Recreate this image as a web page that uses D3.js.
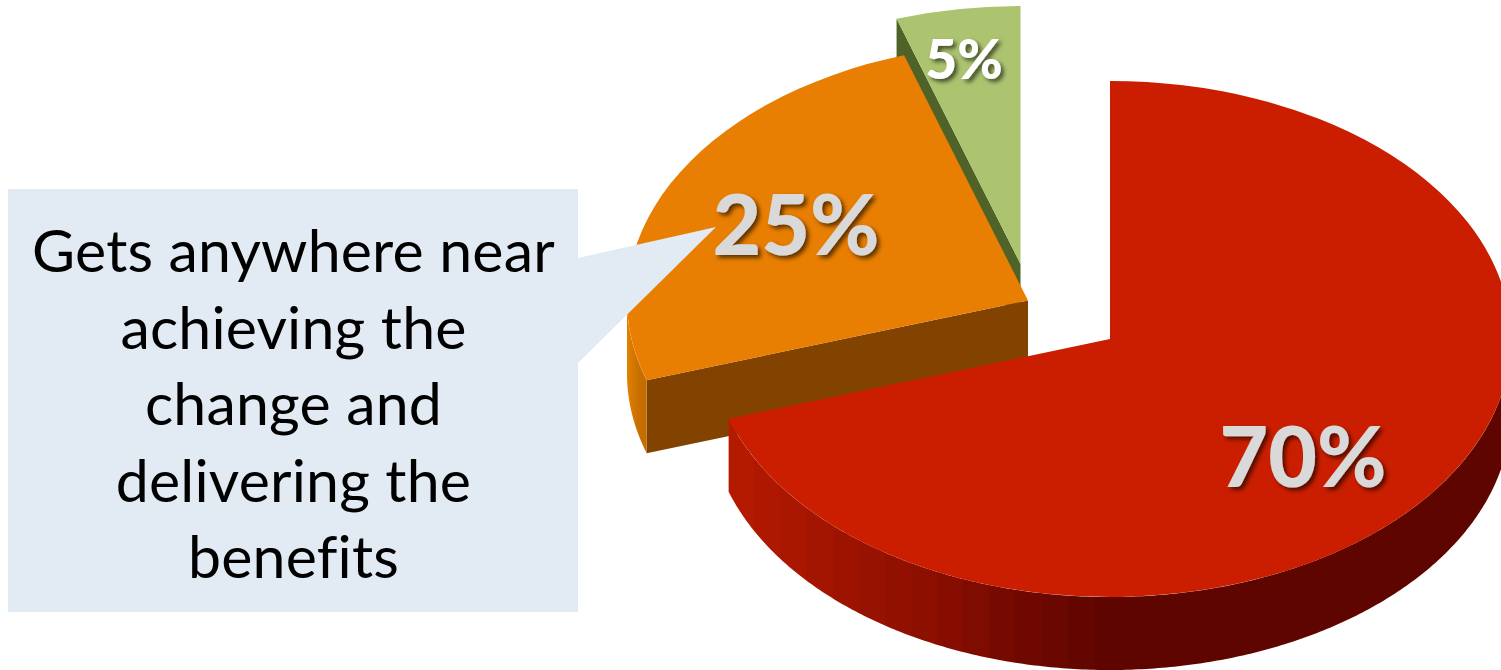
<!DOCTYPE html>
<html>
<head>
<meta charset="utf-8">
<script src="https://cdn.jsdelivr.net/npm/d3@7"></script>
<style>
  html, body { margin: 0; background: #fff; overflow: hidden; }
  svg { display: block; }
  text { font-family: Lato, "Open Sans", sans-serif; }
</style>
</head>
<body>
<svg id="chart" width="1501" height="670"></svg>
<script>
// Outcome shares, clockwise from twelve o'clock
const sliceNames = ["Fails", "Gets anywhere near", "Succeeds"];
const sliceShares = [70, 25, 5];
const calloutLines = ["Gets anywhere near", "achieving the", "change and", "delivering the", "benefits"];

// Colours per slice: top face, cut face, rim
const topColours = ["#cb1e00", "#e87e02", "#acc470"];
const cutColours = ["#ad1800", "#834300", "#4f6228"];
const rimColours = ["url(#redRim)", "url(#orangeRim)", "#8fa65a"];
const labelColours = ["#d9d9d9", "#d9d9d9", "#ffffff"];

// Exploded slice hubs and the tilted-disc proportions
const hubs = [[1110, 339], [1028, 300.5], [1020.5, 264]];
const radiusX = 401, radiusY = 258, depth = 73;
const labelPlacement = [
  { x: 1303, y: 487, size: 84 },
  { x: 796, y: 255, size: 84 },
  { x: 964, y: 79, size: 55 }
];

const svg = d3.select("#chart");
const defs = svg.append("defs");

function addGradient(id, x1, x2, stops) {
  const g = defs.append("linearGradient")
    .attr("id", id).attr("gradientUnits", "userSpaceOnUse")
    .attr("x1", x1).attr("x2", x2).attr("y1", 0).attr("y2", 0);
  stops.forEach(([offset, colour]) => g.append("stop").attr("offset", offset).attr("stop-color", colour));
}

// The red rim shades in flat vertical facets rather than a smooth ramp
const rimShade = d3.scaleLinear()
  .domain([0, 0.25, 0.55, 0.8, 1])
  .range(["#b41a00", "#a01400", "#880e00", "#6e0800", "#5e0500"]);
const facetCount = 15;
addGradient("redRim", 728, 1120, d3.range(facetCount).flatMap(k => [
  [k / facetCount, rimShade(k / (facetCount - 1))],
  [(k + 1) / facetCount, rimShade(k / (facetCount - 1))]
]));
addGradient("orangeRim", 628, 648, [[0, "#e08000"], [0.5, "#c87000"], [1, "#c06c00"]]);

defs.append("filter").attr("id", "labelShadow")
  .attr("x", "-20%").attr("y", "-20%").attr("width", "140%").attr("height", "140%")
  .append("feDropShadow")
  .attr("dx", 3).attr("dy", 3).attr("stdDeviation", 2)
  .attr("flood-color", "#000").attr("flood-opacity", 0.6);

const slices = d3.pie().sort(null)(sliceShares);
const topArc = d3.arc().innerRadius(0).outerRadius(radiusY);
const widen = radiusX / radiusY;

// Point on the tilted disc's edge for a pie angle
const edge = (angle, hub, drop = 0) => [
  hub[0] + radiusX * Math.sin(angle),
  hub[1] - radiusY * Math.cos(angle) + drop
];
const outline = d3.line();

function rimPath(slice, hub) {
  const from = Math.max(slice.startAngle, Math.PI / 2);
  const to = Math.min(slice.endAngle, Math.PI * 1.5);
  if (to <= from) return null;
  const angles = d3.range(from, to, 0.01).concat(to);
  const upper = angles.map(a => edge(a, hub));
  const lower = angles.slice().reverse().map(a => edge(a, hub, depth));
  return outline(upper.concat(lower)) + "Z";
}

function cutPath(slice, hub) {
  const a = slice.startAngle;
  return outline([hub, edge(a, hub), edge(a, hub, depth), [hub[0], hub[1] + depth]]) + "Z";
}

// Back slices first so nearer ones overlap them
const pieLayer = svg.append("g");
d3.range(slices.length).reverse().forEach(i => {
  const slice = slices[i], hub = hubs[i];
  const g = pieLayer.append("g").attr("class", "slice").attr("data-name", sliceNames[i]);
  g.append("path").attr("d", cutPath(slice, hub)).attr("fill", cutColours[i]);
  const rim = rimPath(slice, hub);
  if (rim) g.append("path").attr("d", rim).attr("fill", rimColours[i]);
  g.append("path")
    .attr("d", topArc(slice))
    .attr("transform", `translate(${hub[0]},${hub[1]}) scale(${widen},1)`)
    .attr("fill", topColours[i]);
});

svg.append("g").selectAll("text").data(slices).join("text")
  .attr("x", (d, i) => labelPlacement[i].x)
  .attr("y", (d, i) => labelPlacement[i].y)
  .attr("text-anchor", "middle")
  .attr("font-weight", 900)
  .attr("font-size", (d, i) => labelPlacement[i].size)
  .attr("fill", (d, i) => labelColours[i])
  .attr("filter", "url(#labelShadow)")
  .text(d => `${d.value}%`);

// Callout box with its pointer aimed at the 25% label
const calloutFill = "#e2eaf4";
const callout = svg.append("g");
callout.append("path")
  .attr("d", outline([[8, 189], [578, 189], [578, 258], [716, 227], [578, 363], [578, 612], [8, 612]]) + "Z")
  .attr("fill", calloutFill);
callout.selectAll("text").data(calloutLines).join("text")
  .attr("x", 293.5)
  .attr("y", (d, i) => 272 + i * 76.5)
  .attr("text-anchor", "middle")
  .attr("font-size", 59)
  .attr("letter-spacing", 0.2)
  .attr("fill", "#000")
  .text(d => d);
</script>
</body>
</html>
